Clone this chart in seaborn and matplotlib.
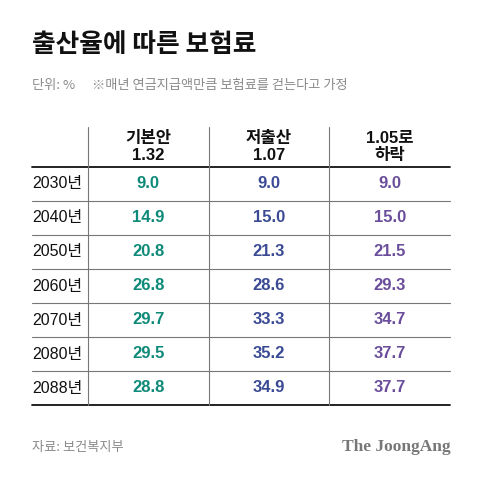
import numpy as np
import pandas as pd
import seaborn as sns
import matplotlib.pyplot as plt
from matplotlib.colors import ListedColormap

# 데이터
years = ['2030년', '2040년', '2050년', '2060년', '2070년', '2080년', '2088년']
headers = ['기본안\n1.32', '저출산\n1.07', '1.05로\n하락']
base_132 = [9.0, 14.9, 20.8, 26.8, 29.7, 29.5, 28.8]
low_107 = [9.0, 15.0, 21.3, 28.6, 33.3, 35.2, 34.9]
drop_105 = [9.0, 15.0, 21.5, 29.3, 34.7, 37.7, 37.7]
col_colors = ['#0e8a78', '#3b4a94', '#6a4e9b']

df = pd.DataFrame({'a': base_132, 'b': low_107, 'c': drop_105}, index=years)

sns.set_theme(style='white')
plt.rcParams['font.family'] = ['Liberation Sans', 'Noto Sans CJK KR', 'DejaVu Sans']
cjk = ['Noto Sans CJK KR', 'DejaVu Sans']

W, H = 480, 478
fig = plt.figure(figsize=(W / 100, H / 100), dpi=100)
fig.patch.set_facecolor('white')

def px(x, y):
    return x / W, 1 - y / H

# 표 영역 (숫자 칸)
left, right, top, bottom = 88, 450, 167, 405
ax = fig.add_axes([left / W, 1 - bottom / H, (right - left) / W, (bottom - top) / H])
sns.heatmap(df, ax=ax, cmap=ListedColormap(['white']), cbar=False,
            annot=True, fmt='.1f', xticklabels=False, yticklabels=False,
            annot_kws={'fontsize': 12, 'fontweight': 'bold'})
for t in ax.texts:
    col = int(t.get_position()[0])
    t.set_color(col_colors[col])
for s in ax.spines.values():
    s.set_visible(False)

col_w = (right - left) / 3
row_h = (bottom - top) / len(years)
x_left = -(left - 32) / col_w
y_head = -(top - 127) / row_h

# 연도 라벨
for i, yr in enumerate(years):
    ax.text(x_left, i + 0.5, yr, ha='left', va='center', fontsize=11.5,
            color='#111111', clip_on=False)

# 헤더
for j, h in enumerate(headers):
    ax.text(j + 0.5, y_head / 2, h, ha='center', va='center', fontsize=12,
            fontweight='bold', color='#111111', linespacing=1.2, clip_on=False)

# 선
for i in range(1, len(years)):
    ax.plot([x_left, 3], [i, i], color='#777777', lw=0.8, clip_on=False)
ax.plot([x_left, 3], [0, 0], color='#111111', lw=1.3, clip_on=False)
ax.plot([x_left, 3], [len(years), len(years)], color='#111111', lw=1.3, clip_on=False)
for j in range(3):
    ax.plot([j, j], [y_head, len(years)], color='#777777', lw=0.8, clip_on=False)

# 제목, 부제, 출처
fig.text(*px(32, 45), '출산율에 따른 보험료', fontsize=18.5, fontweight='black',
         family=cjk, color='#111111', ha='left', va='center')
fig.text(*px(32, 86), '단위: %', fontsize=9.5, family=cjk, color='#8a8a8a',
         ha='left', va='center')
fig.text(*px(92, 86), '※매년 연금지급액만큼 보험료를 걷는다고 가정', fontsize=9.5,
         family=cjk, color='#8a8a8a', ha='left', va='center')
fig.text(*px(32, 447), '자료: 보건복지부', fontsize=9.5, family=cjk, color='#8a8a8a',
         ha='left', va='center')
fig.text(*px(451, 447), 'The JoongAng', fontsize=12.5, fontweight='bold',
         family='Liberation Serif', color='#777777', ha='right', va='center')

fig.savefig('out.png', dpi=100, facecolor='white')
